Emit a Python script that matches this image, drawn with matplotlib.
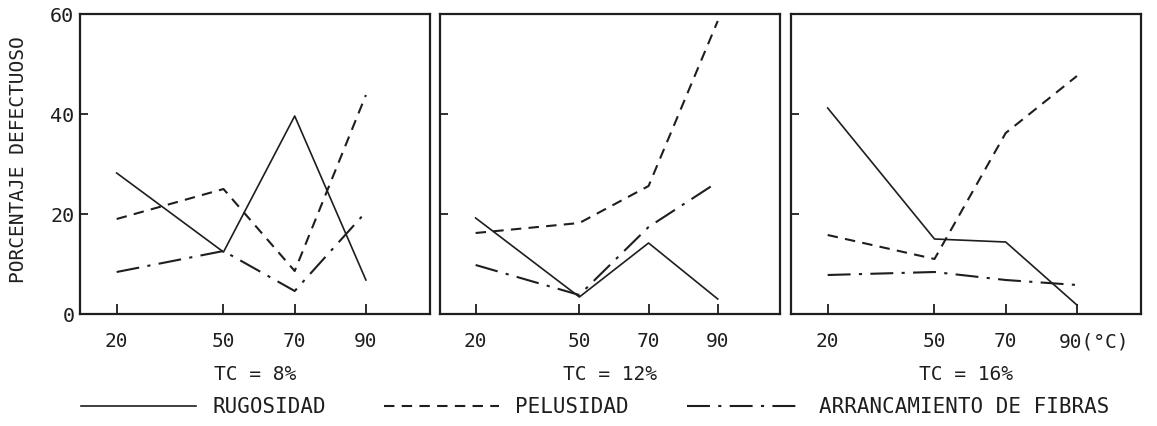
import matplotlib
matplotlib.use("Agg")
import matplotlib.pyplot as plt
from matplotlib.lines import Line2D
from matplotlib.transforms import ScaledTranslation

temps = [20, 50, 70, 90]
panel_titles = ["TC = 8%", "TC = 12%", "TC = 16%"]

rugosidad = [
    [28.2, 12.4, 39.6, 6.8],
    [19.2, 3.4, 14.2, 3.0],
    [41.2, 15.0, 14.4, 1.8],
]
pelusidad = [
    [19.0, 25.0, 8.6, 43.8],
    [16.2, 18.2, 25.6, 58.6],
    [15.8, 11.0, 36.2, 47.6],
]
arrancamiento = [
    [8.4, 12.6, 4.6, 20.4],
    [9.8, 3.8, 17.4, 26.4],
    [7.8, 8.4, 6.8, 5.8],
]

ink = "#1e1e1e"
mono = "DejaVu Sans Mono"
plt.rcParams["font.family"] = mono
plt.rcParams["text.color"] = ink

fig = plt.figure(figsize=(11.57, 4.26), dpi=100)
W, H = 1157, 426

# panel boxes in pixels: left, width
boxes = [(80, 350), (440, 340), (791, 350)]
top, bottom = 14, 314

dashed = (0, (5, 3.5))
dashdot = (0, (11, 4, 1.5, 4))

axes = []
for i, (left, width) in enumerate(boxes):
    ax = fig.add_axes([left / W, (H - bottom) / H, width / W, (bottom - top) / H])
    ax.plot(temps, rugosidad[i], color=ink, lw=1.2, linestyle="-")
    ax.plot(temps, pelusidad[i], color=ink, lw=1.5, linestyle=dashed)
    ax.plot(temps, arrancamiento[i], color=ink, lw=1.5, linestyle=dashdot)

    ax.set_xlim(9.7, 108)
    ax.set_ylim(0, 60)
    ax.set_xticks(temps)
    ax.set_yticks([0, 20, 40, 60])
    labels = [str(t) for t in temps]
    if i == 2:
        labels[-1] = "90(°C)"
    ax.set_xticklabels(labels)
    ax.tick_params(axis="x", direction="in", length=7, width=1.3, pad=13,
                   labelsize=14, colors=ink)
    ax.tick_params(axis="y", direction="in", length=6, width=1.3, pad=4,
                   labelsize=14.5, colors=ink, labelleft=(i == 0))
    for s in ax.spines.values():
        s.set_linewidth(1.6)
        s.set_color(ink)
    ax.set_xlabel(panel_titles[i], fontsize=14, labelpad=10, color=ink)
    axes.append(ax)

# shift the last "90(°C)" label so the number stays on its tick
lab = axes[2].get_xticklabels()[-1]
lab.set_horizontalalignment("left")
lab.set_transform(lab.get_transform() + ScaledTranslation(-13 / 72, 0, fig.dpi_scale_trans))

fig.text(19 / W, 1 - 160 / H, "PORCENTAJE DEFECTUOSO", rotation=90,
         ha="center", va="center", fontsize=14, color=ink)

handles = [
    Line2D([], [], color=ink, lw=1.2, linestyle="-"),
    Line2D([], [], color=ink, lw=1.5, linestyle=dashed),
    Line2D([], [], color=ink, lw=1.5, linestyle=dashdot),
]
names = ["RUGOSIDAD", "PELUSIDAD", "ARRANCAMIENTO DE FIBRAS"]
fig.legend(handles, names, loc="center", bbox_to_anchor=(595 / W, 1 - 407 / H),
           ncol=3, frameon=False, fontsize=15, handlelength=5.5,
           handletextpad=0.8, columnspacing=2.8)

fig.savefig("out.png", dpi=100, facecolor="white")
